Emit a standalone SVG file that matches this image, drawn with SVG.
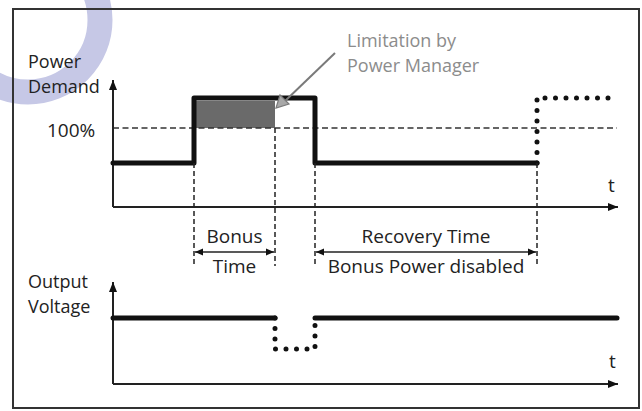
<svg xmlns="http://www.w3.org/2000/svg" width="642" height="411" viewBox="0 0 642 411">
<defs>
<style>
.txt{font-family:"Open Sans","Noto Sans","DejaVu Sans",sans-serif;font-size:19px;fill:#222}
.two{font-size:18px}
.note{font-family:"Open Sans","Noto Sans","DejaVu Sans",sans-serif;font-size:18px;fill:#8c8c8c}
.axis{stroke:#222;stroke-width:2;fill:none}
.sig{stroke:#111;stroke-width:5;fill:none;stroke-linejoin:round;stroke-linecap:round}
.dot{stroke:#111;stroke-width:5;fill:none;stroke-linecap:round;stroke-dasharray:0 10.5}
.vdash{stroke:#222;stroke-width:1.5;fill:none;stroke-dasharray:5 3}
.hdash{stroke:#333;stroke-width:1.6;fill:none;stroke-dasharray:6 3.5}
.dim{stroke:#222;stroke-width:1.6;fill:none}
</style>
<marker id="ax" markerUnits="userSpaceOnUse" markerWidth="12" markerHeight="10" refX="10" refY="5" orient="auto">
<path d="M0,1 L10,5 L0,9 Z" fill="#111"/>
</marker>
<marker id="dimE" markerUnits="userSpaceOnUse" markerWidth="10" markerHeight="8" refX="8" refY="4" orient="auto">
<path d="M0,0.5 L8,4 L0,7.5 Z" fill="#111"/>
</marker>
<marker id="dimS" markerUnits="userSpaceOnUse" markerWidth="10" markerHeight="8" refX="0" refY="4" orient="auto">
<path d="M8,0.5 L0,4 L8,7.5 Z" fill="#111"/>
</marker>
</defs>
<rect width="642" height="411" fill="#fff"/>
<circle cx="28" cy="20" r="72" fill="none" stroke="#c6c8e6" stroke-width="25"/>
<rect x="13" y="9" width="626" height="399" fill="none" stroke="#333" stroke-width="2"/>

<g id="power-chart">
<rect x="196" y="101" width="79" height="27" fill="#6a6a6a"/>
<line class="hdash" x1="113" y1="128" x2="617" y2="128"/>
<line class="axis" x1="113" y1="207" x2="113" y2="80" marker-end="url(#ax)"/>
<line class="axis" x1="113" y1="207" x2="618" y2="207" marker-end="url(#ax)"/>
<polyline class="sig" points="113,163 194,163 194,98 315,98 315,163 537,163"/>
<line class="dot" x1="537" y1="163" x2="537" y2="98"/>
<line class="dot" x1="545" y1="98" x2="616" y2="98"/>
<text class="txt two" x="28" y="68">Power<tspan x="28" dy="25">Demand</tspan></text>
<text class="txt" x="47" y="137">100%</text>
<text class="txt" x="608" y="192">t</text>
</g>

<g id="annotation">
<text class="note" x="347" y="47">Limitation by<tspan x="347" dy="25">Power Manager</tspan></text>
<line x1="335" y1="53" x2="284" y2="102" stroke="#7a7a7a" stroke-width="2"/>
<path d="M276,108 L280,95 L289,104 Z" fill="#a8a8a8" stroke="#7a7a7a" stroke-width="1.2"/>
</g>

<g id="connectors">
<line class="vdash" x1="194" y1="163" x2="194" y2="266"/>
<line class="vdash" x1="275" y1="128" x2="275" y2="266"/>
<line class="vdash" x1="315" y1="163" x2="315" y2="266"/>
<line class="vdash" x1="537" y1="163" x2="537" y2="266"/>
<line class="dim" x1="195" y1="252" x2="274" y2="252" marker-start="url(#dimS)" marker-end="url(#dimE)"/>
<line class="dim" x1="316" y1="252" x2="536" y2="252" marker-start="url(#dimS)" marker-end="url(#dimE)"/>
</g>

<g id="bonus-time">
<text class="txt" x="234.5" y="243" text-anchor="middle">Bonus</text>
<text class="txt" x="234.5" y="273" text-anchor="middle">Time</text>
</g>

<g id="recovery-time">
<text class="txt" x="426" y="243" text-anchor="middle">Recovery Time</text>
<text class="txt" x="426" y="273" text-anchor="middle">Bonus Power disabled</text>
</g>

<g id="voltage-chart">
<line class="axis" x1="113" y1="384" x2="113" y2="282" marker-end="url(#ax)"/>
<line class="axis" x1="113" y1="384" x2="618" y2="384" marker-end="url(#ax)"/>
<line class="sig" x1="113" y1="318" x2="275" y2="318"/>
<polyline class="dot" points="275,318 275,349 315,349 315,318"/>
<line class="sig" x1="315" y1="318" x2="617" y2="318"/>
<text class="txt two" x="28" y="288">Output<tspan x="28" dy="25">Voltage</tspan></text>
<text class="txt" x="609" y="368">t</text>
</g>
</svg>
